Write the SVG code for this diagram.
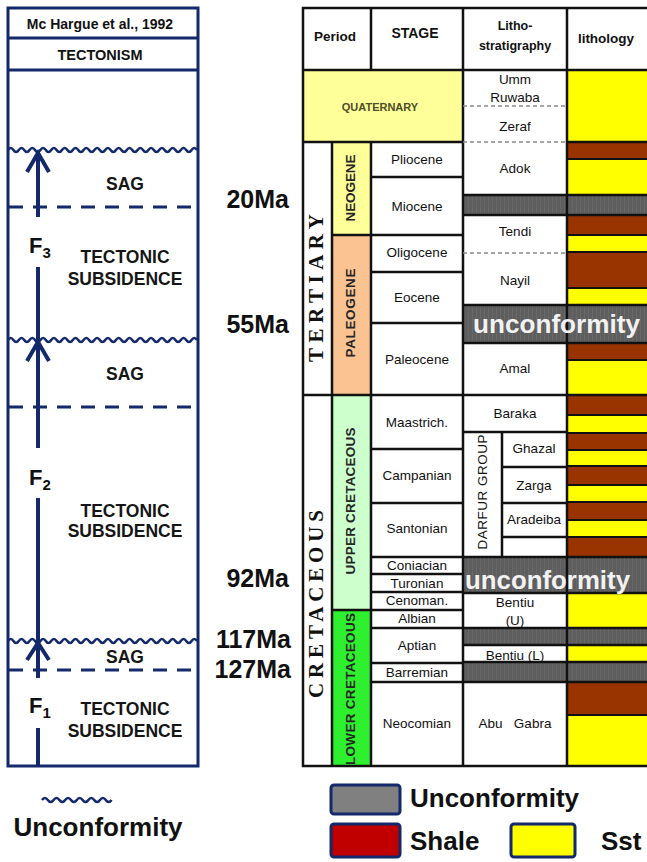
<svg xmlns="http://www.w3.org/2000/svg" width="647" height="862" viewBox="0 0 647 862">
<defs>
<style>
text{font-family:"Liberation Sans",Arial,sans-serif;fill:#111}
.b{font-weight:bold}
.c{text-anchor:middle}
.nv{stroke:#13296b;fill:none}
.ln{stroke:#111;stroke-width:2.5;fill:none}
.thin{stroke:#111;stroke-width:2;fill:none}
.dsh{stroke:#888;stroke-width:1.5;stroke-dasharray:4 3;fill:none}
.lbl{font-size:17.5px;font-weight:bold;text-anchor:middle;fill:#151515}
.ma{font-size:25px;font-weight:bold;text-anchor:end}
.st{font-size:13.5px;text-anchor:middle}
.vl{font-size:13.5px;font-weight:bold;text-anchor:middle;fill:#262626}
.era{font-family:"Liberation Serif","Times New Roman",serif;font-size:21px;font-weight:bold;text-anchor:middle}
.unc{font-size:26px;font-weight:bold;fill:#f2f2f2}
.Y{fill:#ffff00}.B{fill:#993300}
</style>
<pattern id="grayTex" width="4" height="4" patternUnits="userSpaceOnUse">
<rect width="4" height="4" fill="#5e5e5e"/>
<rect x="0" width="1" height="4" fill="#686868"/>
</pattern>
<path id="wave" d="M0,0 q2.7,-4 5.4,0 t5.4,0 t5.4,0 t5.4,0 t5.4,0 t5.4,0 t5.4,0 t5.4,0 t5.4,0 t5.4,0 t5.4,0 t5.4,0 t5.4,0 t5.4,0 t5.4,0 t5.4,0 t5.4,0 t5.4,0 t5.4,0 t5.4,0 t5.4,0 t5.4,0 t5.4,0 t5.4,0 t5.4,0 t5.4,0 t5.4,0 t5.4,0 t5.4,0 t5.4,0 t5.4,0 t5.4,0 t5.4,0 t5.4,0 t5.4,0"/>
</defs>
<rect width="647" height="862" fill="#fff"/>

<!-- LEFT: tectonism column -->
<g id="tectonism-column">
<rect x="8" y="8" width="190" height="758" class="nv" stroke-width="3"/>
<line x1="8" y1="38" x2="198" y2="38" class="nv" stroke-width="3"/>
<line x1="8" y1="70" x2="198" y2="70" class="nv" stroke-width="3"/>
<text x="100" y="29" class="b c" font-size="14">Mc Hargue et al., 1992</text>
<text x="100" y="60" class="b c" font-size="14.5">TECTONISM</text>
</g>

<g id="unconformity-lines" class="nv" stroke-width="2.5">
<use href="#wave" x="8" y="150"/>
<use href="#wave" x="8" y="340"/>
<use href="#wave" x="8" y="641"/>
</g>
<g id="phase-boundaries" class="nv" stroke-width="3" stroke-dasharray="14 10">
<line x1="9" y1="207" x2="197" y2="207"/>
<line x1="9" y1="407" x2="197" y2="407"/>
<line x1="9" y1="670" x2="197" y2="670"/>
</g>

<g id="connectors" class="nv" stroke-width="4">
<line x1="38" y1="153" x2="38" y2="217"/>
<line x1="38" y1="267" x2="38" y2="448"/>
<line x1="38" y1="498" x2="38" y2="678"/>
<line x1="38" y1="728" x2="38" y2="765"/>
<path d="M27,172 L38,153 L49,172" stroke-linejoin="miter"/>
<path d="M27,361 L38,342 L49,361"/>
<path d="M27,660 L38,643 L49,660"/>
</g>

<g id="phase-F3">
<text x="29" y="253" class="b" font-size="22">F<tspan font-size="15" dy="5">3</tspan></text>
<text x="125" y="190" class="lbl">SAG</text>
<text x="125" y="263" class="lbl">TECTONIC</text>
<text x="125" y="285" class="lbl">SUBSIDENCE</text>
</g>
<g id="phase-F2">
<text x="29" y="485" class="b" font-size="22">F<tspan font-size="15" dy="5">2</tspan></text>
<text x="125" y="380" class="lbl">SAG</text>
<text x="125" y="517" class="lbl">TECTONIC</text>
<text x="125" y="537" class="lbl">SUBSIDENCE</text>
</g>
<g id="phase-F1">
<text x="29" y="713" class="b" font-size="22">F<tspan font-size="15" dy="5">1</tspan></text>
<text x="125" y="663" class="lbl">SAG</text>
<text x="125" y="715" class="lbl">TECTONIC</text>
<text x="125" y="737" class="lbl">SUBSIDENCE</text>
</g>

<g id="ages">
<text x="289" y="208" class="ma">20Ma</text>
<text x="289" y="333" class="ma">55Ma</text>
<text x="289" y="587" class="ma">92Ma</text>
<text x="291" y="648" class="ma">117Ma</text>
<text x="291" y="678" class="ma">127Ma</text>
</g>

<!-- RIGHT: stratigraphic table -->
<g id="strat-table">
<g id="fills">
<rect x="303" y="70" width="160" height="72" fill="#ffff99"/>
<rect x="332" y="142" width="39" height="93" fill="#ffff99"/>
<rect x="332" y="235" width="39" height="160" fill="#fbc392"/>
<rect x="332" y="395" width="39" height="215" fill="#ccffcc"/>
<rect x="332" y="610" width="39" height="156" fill="#2ef02e"/>
</g>
<g id="lithology">
<rect x="567" y="70" width="80" height="72" class="Y"/>
<rect x="567" y="142" width="80" height="17" class="B"/>
<rect x="567" y="159" width="80" height="36" class="Y"/>
<rect x="567" y="215" width="80" height="20" class="B"/>
<rect x="567" y="235" width="80" height="17" class="Y"/>
<rect x="567" y="252" width="80" height="36" class="B"/>
<rect x="567" y="288" width="80" height="17" class="Y"/>
<rect x="567" y="343" width="80" height="17" class="B"/>
<rect x="567" y="360" width="80" height="35" class="Y"/>
<rect x="567" y="395" width="80" height="20" class="B"/>
<rect x="567" y="415" width="80" height="18" class="Y"/>
<rect x="567" y="433" width="80" height="17" class="B"/>
<rect x="567" y="450" width="80" height="16" class="Y"/>
<rect x="567" y="466" width="80" height="19" class="B"/>
<rect x="567" y="485" width="80" height="17" class="Y"/>
<rect x="567" y="502" width="80" height="18" class="B"/>
<rect x="567" y="520" width="80" height="17" class="Y"/>
<rect x="567" y="537" width="80" height="20" class="B"/>
<rect x="567" y="593" width="80" height="35" class="Y"/>
<rect x="567" y="645" width="80" height="17" class="Y"/>
<rect x="567" y="682" width="80" height="33" class="B"/>
<rect x="567" y="715" width="80" height="51" class="Y"/>
</g>
<g id="unconformity-bands" fill="url(#grayTex)">
<rect x="463" y="195" width="184" height="20"/>
<rect x="463" y="305" width="184" height="38"/>
<rect x="463" y="557" width="184" height="36"/>
<rect x="463" y="628" width="184" height="17"/>
<rect x="463" y="662" width="184" height="20"/>
</g>
<g id="grid">
<rect x="303" y="8" width="400" height="758" class="ln"/>
<path class="ln" d="M371,8V70 M463,8V766 M567,8V766 M303,70H647 M303,142H463 M567,142H647 M303,395H647 M332,142V766 M371,142V766 M332,235H371 M332,610H371"/>
<path class="ln" d="M371,177H463 M371,235H463 M371,272H463 M371,323H463 M371,449H463 M371,503H463 M371,557H463 M371,574H463 M371,592H463 M371,610H463 M371,628H463 M371,663H463 M371,682H463"/>
<path class="ln" d="M463,195H647 M463,215H647 M463,305H647 M463,343H647 M463,557H647 M463,593H647 M463,628H647 M463,645H647 M463,662H647 M463,682H647 M463,432H567 M502,432V557 M502,467H567 M502,503H567 M502,537H567"/>
<path class="thin" d="M567,159H647 M567,235H647 M567,252H647 M567,288H647 M567,360H647 M567,415H647 M567,433H647 M567,450H647 M567,466H647 M567,485H647 M567,502H647 M567,520H647 M567,537H647 M567,715H647"/>
<path class="dsh" d="M463,106H567 M463,142H567 M463,253H567"/>
</g>
<g id="headers">
<text x="335" y="41" class="b c" font-size="13.5">Period</text>
<text x="415" y="38" class="b c" font-size="14">STAGE</text>
<text x="515" y="30" class="b c" font-size="12.5">Litho-</text>
<text x="515" y="50" class="b c" font-size="12.5">stratigraphy</text>
<text x="606" y="43" class="b c" font-size="13.5">lithology</text>
</g>
<g id="periods">
<text x="380" y="111" class="b c" font-size="11" style="fill:#4d4d2a">QUATERNARY</text>
<text class="era" transform="translate(316,288) rotate(-90)" y="7" textLength="148" lengthAdjust="spacing">TERTIARY</text>
<text class="era" transform="translate(316,604) rotate(-90)" y="7" textLength="188" lengthAdjust="spacing">CRETACEOUS</text>
<text class="vl" transform="translate(350,188) rotate(-90)" y="5" textLength="67">NEOGENE</text>
<text class="vl" transform="translate(350,313) rotate(-90)" y="5" textLength="89">PALEOGENE</text>
<text class="vl" transform="translate(350,501) rotate(-90)" y="5" textLength="147">UPPER CRETACEOUS</text>
<text class="vl" transform="translate(350,689) rotate(-90)" y="5" textLength="152">LOWER CRETACEOUS</text>
</g>
<g id="stages">
<text x="417" y="164" class="st">Pliocene</text>
<text x="417" y="211" class="st">Miocene</text>
<text x="417" y="257" class="st">Oligocene</text>
<text x="417" y="302" class="st">Eocene</text>
<text x="417" y="364" class="st">Paleocene</text>
<text x="417" y="427" class="st">Maastrich.</text>
<text x="417" y="480" class="st">Campanian</text>
<text x="417" y="533" class="st">Santonian</text>
<text x="417" y="570" class="st">Coniacian</text>
<text x="417" y="588" class="st">Turonian</text>
<text x="417" y="605" class="st">Cenoman.</text>
<text x="417" y="623" class="st">Albian</text>
<text x="417" y="650" class="st">Aptian</text>
<text x="417" y="677" class="st">Barremian</text>
<text x="417" y="728" class="st">Neocomian</text>
</g>
<g id="formations">
<text x="515" y="84" class="st">Umm</text>
<text x="515" y="102" class="st">Ruwaba</text>
<text x="515" y="131" class="st">Zeraf</text>
<text x="515" y="173" class="st">Adok</text>
<text x="515" y="236" class="st">Tendi</text>
<text x="515" y="285" class="st">Nayil</text>
<text x="515" y="373" class="st">Amal</text>
<text x="515" y="418" class="st">Baraka</text>
<text class="st" transform="translate(482,492) rotate(-90)" y="5" textLength="115" lengthAdjust="spacing">DARFUR  GROUP</text>
<text x="534" y="453" class="st">Ghazal</text>
<text x="534" y="490" class="st">Zarga</text>
<text x="534" y="524" class="st">Aradeiba</text>
<text x="515" y="607" class="st">Bentiu</text>
<text x="515" y="625" class="st">(U)</text>
<text x="515" y="660" class="st">Bentiu (L)</text>
<text x="515" y="728" class="st" xml:space="preserve">Abu   Gabra</text>
<text x="473" y="333" class="unc" textLength="167" lengthAdjust="spacingAndGlyphs">unconformity</text>
<text x="465" y="589" class="unc" textLength="165" lengthAdjust="spacingAndGlyphs">unconformity</text>
</g>
</g>

<!-- LEGEND -->
<g id="legend-wavy">
<path d="M42,800 q2.9,-4 5.8,0 t5.8,0 t5.8,0 t5.8,0 t5.8,0 t5.8,0 t5.8,0 t5.8,0 t5.8,0 t5.8,0 t5.8,0 t5.8,0" class="nv" stroke-width="2.5"/>
<text x="98" y="836" class="b c" font-size="26">Unconformity</text>
</g>
<g id="legend-unconformity">
<rect x="331" y="785" width="69" height="29" rx="3" fill="#808080" stroke="#13296b" stroke-width="3"/>
<text x="410" y="807" class="b" font-size="26">Unconformity</text>
</g>
<g id="legend-shale">
<rect x="331" y="824" width="69" height="33" rx="3" fill="#c00000" stroke="#13296b" stroke-width="3"/>
<text x="410" y="850" class="b" font-size="26">Shale</text>
</g>
<g id="legend-sst">
<rect x="511" y="824" width="64" height="33" rx="3" fill="#ffff00" stroke="#13296b" stroke-width="3"/>
<text x="601" y="850" class="b" font-size="26">Sst</text>
</g>
</svg>
